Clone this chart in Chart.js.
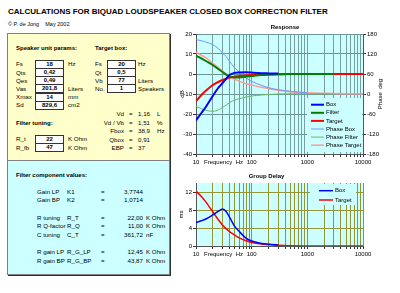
<!DOCTYPE html>
<html>
<head>
<meta charset="utf-8">
<script src="https://cdn.jsdelivr.net/npm/chart.js@4.4.0/dist/chart.umd.min.js"></script>
<style>
body{margin:0;width:400px;height:293px;background:#fff;position:relative;overflow:hidden;
  font-family:"Liberation Sans",Arial,sans-serif;color:#000}
.t{position:absolute;white-space:nowrap;line-height:8px;font-size:6.2px}
.b{font-weight:bold;font-size:6px}
.r{text-align:right}
.panel{position:absolute;left:7px;width:163px;border:1px solid #808080;box-shadow:1px 1px 0 #303030;box-sizing:border-box}
.cell{position:absolute;background:#fff;border:1px solid #333;box-sizing:border-box;text-align:center;
  font-weight:bold;font-size:6px;line-height:7px}
canvas{position:absolute}
</style>
</head>
<body>
<div class="t" style="left:8px;top:7px;font-size:8px;line-height:10px;font-weight:bold">CALCULATIONS FOR BIQUAD LOUDSPEAKER CLOSED BOX CORRECTION FILTER</div>
<div class="t" style="left:8px;top:20px;font-size:5.5px">© P. de Jong &nbsp;&nbsp; May 2002</div>
<div class="panel" style="top:33px;height:128px;background:#ffffcc"></div>
<div class="panel" style="top:160px;height:115px;background:#ccffff"></div>
<div id="left"></div>

<canvas id="resp" width="230" height="152" style="left:170px;top:22px;width:230px;height:152px"></canvas>
<canvas id="gd" width="230" height="96" style="left:170px;top:170px;width:230px;height:96px"></canvas>

<script>
// response data
var freq = [10, 12.5, 15, 20, 25, 30, 35, 40, 50, 60, 80, 100, 150, 200, 300, 500, 1000, 2000, 3000, 5000, 10000];
var boxDb = [-23.2, -19.5, -16.5, -11, -7, -4.5, -2.3, -0.5, 0.6, 0.8, 0.9, 0.7, 0.4, 0.3, 0.2];
var filterDb = [9.1, 7.8, 6.5, 4.5, 2.5, 1.0, -0.3, -1.2, -1.7, -1.7, -1.3, -1.0, -0.5, -0.3, -0.1, 0, 0, 0, 0];
var targetDb = [-13.6, -10.5, -8.4, -5.5, -4, -3, -2.3, -1.8, -1.3, -1, -0.7, -0.5, -0.3, -0.2, -0.1, 0, 0, 0, 0, 0, 0];
var phaseBox = [163, 160, 156, 148, 137, 123, 112, 98, 78, 66, 48, 38, 26, 19, 13, 8, 3.6];
var phaseFilter = [-37, -44, -49, -52, -48, -40, -33, -26, -18, -14, -9, -6, -3, -1.5, 0, 0.5, 0.5, 0.3, 0];
var phaseTarget = [126, 116, 109, 92, 80, 69, 60, 53, 44, 38, 31, 27, 20, 16, 11, 7, 3.6, 2, 1.3, 0.8, 0.4];

// group delay (ms)
var gdBox = [5.2, 5.6, 6.0, 6.9, 7.7, 8.2, 7.6, 6.4, 4.3, 3.2, 1.7, 1.1, 0.55, 0.4, 0.2];
var gdTarget = [12.2, 11.0, 9.8, 7.6, 5.9, 4.6, 3.8, 3.2, 2.4, 1.8, 1.15, 0.8, 0.45, 0.32, 0.15, 0.06, 0.02, 0, 0, 0, 0];

var decadeLabels = [10, 100, 1000, 10000];
var dbTicks = {min: -40, max: 20, step: 10};
var phaseTicks = {min: -180, max: 180, step: 60};
var gdTicksY = {min: 0, max: 14, step: 2};

// left side spreadsheet
var speakerRows = [['Fs', '18', 'Hz'], ['Qts', '0,42', ''], ['Qes', '0,49', ''], ['Vas', '201,8', 'Liters'], ['Xmax', '14', 'mm'], ['Sd', '829,6', 'cm2']];
var boxRows = [['Fs', '20', 'Hz'], ['Qt', '0,5', ''], ['Vb', '77', 'Liters'], ['No.', '1', 'Speakers']];
var calcRows = [['Vd', '1,16', 'L'], ['Vd / Vb', '1,51', '%'], ['Fbox', '38,9', 'Hz'], ['Qbox', '0,91', ''], ['EBP', '37', '']];
var tuneRows = [['R_t', '22', 'K Ohm'], ['R_fb', '47', 'K Ohm']];
var compRows = [
  ['Gain LP', 'K1', '3,7744', ''], ['Gain BP', 'K2', '1,0714', ''], null,
  ['R tuning', 'R_T', '22,00', 'K Ohm'], ['R Q-factor', 'R_Q', '11,00', 'K Ohm'], ['C tuning', 'C_T', '361,72', 'nF'], null,
  ['R gain LP', 'R_G_LP', '12,45', 'K Ohm'], ['R gain BP', 'R_G_BP', '43,87', 'K Ohm']
];

var html = '';
function txt(x, cy, s, cls, extra) {
  html += '<div class="t ' + (cls || '') + '" style="left:' + x + 'px;top:' + (cy - 4) + 'px;' + (extra || '') + '">' + s + '</div>';
}
function cell(x, cy, w, s) {
  html += '<div class="cell" style="left:' + x + 'px;top:' + (cy - 4.5) + 'px;width:' + w + 'px;height:9px">' + s + '</div>';
}
txt(16, 47.5, 'Speaker unit params:', 'b');
txt(95, 47.5, 'Target box:', 'b');
speakerRows.forEach(function (r, i) {
  var cy = 64.3 + 8.2 * i;
  txt(16, cy, r[0]); cell(35, cy, 29, r[1]); txt(68, cy, r[2]);
});
boxRows.forEach(function (r, i) {
  var cy = 64.3 + 8.2 * i;
  txt(95, cy, r[0]); cell(107, cy, 29, r[1]); txt(138, cy, r[2]);
});
calcRows.forEach(function (r, i) {
  var cy = 114.3 + 8.4 * i;
  txt(74, cy, r[0], 'r', 'width:50px'); txt(129, cy, '='); txt(138, cy, r[1]); txt(157, cy, r[2]);
});
txt(16, 122.7, 'Filter tuning:', 'b');
tuneRows.forEach(function (r, i) {
  var cy = 139.3 + 8.2 * i;
  txt(16, cy, r[0]); cell(35, cy, 29, r[1]); txt(68, cy, r[2]);
});
txt(16, 175, 'Filter component values:', 'b');
var cy = 191.7;
compRows.forEach(function (r) {
  if (!r) { cy += 8.6; return; }
  txt(37, cy, r[0]); txt(67, cy, r[1]); txt(101, cy, '=');
  txt(103, cy, r[2], 'r', 'width:40px'); txt(146, cy, r[3]);
  cy += 8.6;
});
document.getElementById('left').innerHTML = html;

// chart helpers
function pts(arr) {
  return arr.map(function (v, i) { return {x: freq[i], y: v}; });
}
function logGrid(scale) {
  var t = [];
  for (var d = 10; d < 10000; d *= 10) {
    for (var m = 1; m < 10; m++) t.push({value: d * m});
  }
  t.push({value: 10000});
  scale.ticks = t;
}

Chart.defaults.font.family = '"Liberation Sans", Arial, sans-serif';
Chart.defaults.font.size = 6;
Chart.defaults.color = '#000';

var plotBg = {
  id: 'plotBg',
  beforeDraw: function (chart) {
    var a = chart.chartArea, ctx = chart.ctx;
    ctx.save();
    ctx.fillStyle = '#ccffff';
    ctx.fillRect(a.left, a.top, a.right - a.left, a.bottom - a.top);
    ctx.restore();
  }
};

var extras = {
  id: 'extras',
  afterDraw: function (chart, args, o) {
    var a = chart.chartArea, ctx = chart.ctx;
    ctx.save();
    ctx.font = '6px "Liberation Sans", Arial, sans-serif';
    ctx.fillStyle = '#000';
    ctx.textBaseline = 'middle';
    ctx.fillText('Frequency  Hz', a.left + 8, a.bottom + 8);
    if (o.rightTitle) {
      ctx.save();
      ctx.translate(a.right + 17, (a.top + a.bottom) / 2);
      ctx.rotate(-Math.PI / 2);
      ctx.textAlign = 'center';
      ctx.fillText(o.rightTitle, 0, 0);
      ctx.restore();
    }
    // legend box inside the plot
    var L = o.legend;
    var x0 = a.right - L.right - L.w, y0 = a.top + L.top;
    ctx.fillStyle = '#ccffff';
    ctx.fillRect(x0, y0, L.w, L.h);
    chart.data.datasets.forEach(function (ds, i) {
      var y = y0 + L.first + L.row * i;
      ctx.strokeStyle = ds.borderColor;
      ctx.lineWidth = ds.borderWidth;
      ctx.beginPath();
      ctx.moveTo(x0 + L.l0, y);
      ctx.lineTo(x0 + L.l1, y);
      ctx.stroke();
      ctx.fillStyle = '#000';
      ctx.fillText(ds.label, x0 + L.tx, y);
    });
    ctx.restore();
  }
};

function xScale(gridColor) {
  return {
    type: 'logarithmic', min: 10, max: 10000,
    afterBuildTicks: logGrid,
    afterFit: function (s) { s.height = 20; },
    ticks: {
      autoSkip: false, maxRotation: 0, padding: 1.5,
      callback: function (v) { return decadeLabels.indexOf(v) >= 0 ? String(v) : ''; }
    },
    grid: {color: gridColor, tickLength: 3, tickColor: '#333'},
    border: {color: '#555'}
  };
}

new Chart(document.getElementById('resp'), {
  type: 'line',
  data: {
    datasets: [
      {label: 'Box', data: pts(boxDb), borderColor: '#0000ff', borderWidth: 2, yAxisID: 'y'},
      {label: 'Filter', data: pts(filterDb), borderColor: '#008000', borderWidth: 2, yAxisID: 'y'},
      {label: 'Target', data: pts(targetDb), borderColor: '#ff0000', borderWidth: 2, yAxisID: 'y'},
      {label: 'Phase Box', data: pts(phaseBox), borderColor: '#6699ff', borderWidth: 1, yAxisID: 'y2'},
      {label: 'Phase Filter', data: pts(phaseFilter), borderColor: '#66bb66', borderWidth: 1, yAxisID: 'y2'},
      {label: 'Phase Target', data: pts(phaseTarget), borderColor: '#ff9999', borderWidth: 1.5, yAxisID: 'y2'}
    ]
  },
  options: {
    responsive: false, animation: false,
    layout: {padding: 0},
    elements: {point: {radius: 0}, line: {cubicInterpolationMode: 'monotone'}},
    plugins: {
      legend: {display: false}, tooltip: {enabled: false},
      title: {display: true, text: 'Response', font: {size: 6, weight: 'bold'}, padding: {top: 2, bottom: 2.8}},
      extras: {rightTitle: 'Phase  deg', legend: {right: 1, w: 55, top: 64, h: 54, first: 6.7, row: 8.1, l0: 4, l1: 17, tx: 19}}
    },
    scales: {
      x: xScale('#78a0a0'),
      y: {
        min: dbTicks.min, max: dbTicks.max,
        afterFit: function (s) { s.width = 26; },
        ticks: {stepSize: dbTicks.step, padding: 1},
        title: {display: true, text: 'dB', padding: {top: 9, bottom: 0}},
        grid: {color: '#6a9696', tickLength: 3, tickColor: '#333'},
        border: {color: '#555'}
      },
      y2: {
        position: 'right', min: phaseTicks.min, max: phaseTicks.max,
        afterFit: function (s) { s.width = 37; },
        ticks: {stepSize: phaseTicks.step, padding: 1},
        grid: {drawOnChartArea: false, tickLength: 3, tickColor: '#333'},
        border: {color: '#555'}
      }
    }
  },
  plugins: [plotBg, extras]
});

new Chart(document.getElementById('gd'), {
  type: 'line',
  data: {
    datasets: [
      {label: 'Box', data: pts(gdBox), borderColor: '#0000ff', borderWidth: 1.5},
      {label: 'Target', data: pts(gdTarget), borderColor: '#ff0000', borderWidth: 1.5}
    ]
  },
  options: {
    responsive: false, animation: false,
    layout: {padding: {right: 37}},
    elements: {point: {radius: 0}, line: {cubicInterpolationMode: 'monotone'}},
    plugins: {
      legend: {display: false}, tooltip: {enabled: false},
      title: {display: true, text: 'Group Delay', font: {size: 6, weight: 'bold'}, padding: {top: 3, bottom: 2.8}},
      extras: {legend: {right: 7, w: 46, top: 1, h: 21, first: 6.7, row: 9.3, l0: 9, l1: 23, tx: 25}}
    },
    scales: {
      x: xScale('#959535'),
      y: {
        min: gdTicksY.min, max: gdTicksY.max,
        afterFit: function (s) { s.width = 26; },
        ticks: {stepSize: gdTicksY.step, padding: 1},
        title: {display: true, text: 'ms', padding: {top: 8, bottom: 0}},
        grid: {color: '#959535', tickLength: 3, tickColor: '#333'},
        border: {color: '#555'}
      }
    }
  },
  plugins: [plotBg, extras]
});
</script>
</body>
</html>
